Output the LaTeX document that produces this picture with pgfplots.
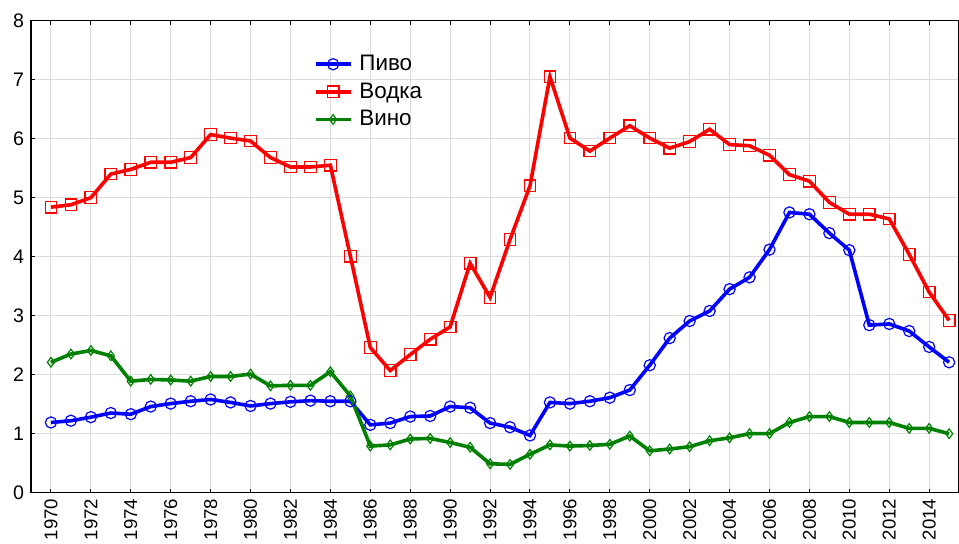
\documentclass[border=0pt]{standalone}
\usepackage{fontspec}
\setmainfont{Liberation Sans}
\usepackage{pgfplots}
\pgfplotsset{compat=1.18}
\definecolor{gridgray}{RGB}{220,220,220}
\begin{document}
\begin{tikzpicture}
\begin{axis}[
  scale only axis,
  width=463.75pt, height=236pt,
  xmin=1969, xmax=2015.47,
  ymin=0, ymax=8,
  xtick={1970,1972,...,2014},
  ytick={0,1,...,8},
  xticklabel style={rotate=90, anchor=east, font=\fontsize{9.3}{11}\selectfont, xshift=0.5pt},
  yticklabel style={font=\fontsize{9.8}{11}\selectfont},
  /pgf/number format/1000 sep={},
  /pgf/number format/assume math mode=true,
  tick align=inside,
  major tick length=2pt,
  ytick pos=left,
  xtick pos=both,
  xticklabel pos=lower,
  grid=major,
  major grid style={gridgray, line width=0.5pt},
  axis line style={black, line width=0.6pt},
  tick style={black, line width=0.5pt},
  legend style={at={(0.298,0.945)}, anchor=north west, draw=none, fill=none,
    font=\fontsize{11.2}{12}\selectfont, row sep=0.6pt},
  legend cell align=left,
  legend image code/.code={\draw[mark repeat=2,mark phase=2] plot coordinates {(0pt,0pt) (8.75pt,0pt) (17.5pt,0pt)};},
]
\addplot[blue, line width=1.8pt, mark=o, mark size=2.8pt, mark options={line width=0.6pt, fill=none}] coordinates {
(1970,1.19)(1971,1.22)(1972,1.28)(1973,1.35)(1974,1.33)(1975,1.46)(1976,1.51)(1977,1.55)(1978,1.58)(1979,1.53)
(1980,1.47)(1981,1.51)(1982,1.54)(1983,1.56)(1984,1.55)(1985,1.55)(1986,1.15)(1987,1.18)(1988,1.29)(1989,1.30)
(1990,1.46)(1991,1.44)(1992,1.18)(1993,1.11)(1994,0.97)(1995,1.53)(1996,1.51)(1997,1.55)(1998,1.61)(1999,1.74)
(2000,2.16)(2001,2.62)(2002,2.91)(2003,3.08)(2004,3.45)(2005,3.65)(2006,4.12)(2007,4.75)(2008,4.72)(2009,4.40)
(2010,4.11)(2011,2.84)(2012,2.86)(2013,2.74)(2014,2.47)(2015,2.21)};
\addlegendentry{\hspace{1.5pt}Пиво}
\addplot[red, line width=1.8pt, mark=square, mark size=2.9pt, mark options={line width=0.6pt, fill=none}] coordinates {
(1970,4.84)(1971,4.88)(1972,5.00)(1973,5.40)(1974,5.48)(1975,5.60)(1976,5.60)(1977,5.68)(1978,6.07)(1979,6.01)
(1980,5.96)(1981,5.68)(1982,5.52)(1983,5.52)(1984,5.55)(1985,4.01)(1986,2.46)(1987,2.07)(1988,2.34)(1989,2.60)
(1990,2.81)(1991,3.89)(1992,3.31)(1993,4.29)(1994,5.20)(1995,7.05)(1996,6.01)(1997,5.79)(1998,6.01)(1999,6.22)
(2000,6.01)(2001,5.84)(2002,5.95)(2003,6.16)(2004,5.90)(2005,5.88)(2006,5.72)(2007,5.39)(2008,5.28)(2009,4.92)
(2010,4.72)(2011,4.72)(2012,4.64)(2013,4.04)(2014,3.40)(2015,2.92)};
\addlegendentry{\hspace{1.5pt}Водка}
\addplot[black!50!green, line width=1.8pt, mark=diamond, mark size=2.4pt, mark options={line width=0.6pt, fill=none}] coordinates {
(1970,2.21)(1971,2.35)(1972,2.41)(1973,2.32)(1974,1.89)(1975,1.92)(1976,1.91)(1977,1.89)(1978,1.97)(1979,1.97)
(1980,2.01)(1981,1.81)(1982,1.82)(1983,1.82)(1984,2.05)(1985,1.64)(1986,0.79)(1987,0.81)(1988,0.91)(1989,0.92)
(1990,0.85)(1991,0.77)(1992,0.49)(1993,0.48)(1994,0.65)(1995,0.81)(1996,0.79)(1997,0.80)(1998,0.82)(1999,0.96)
(2000,0.71)(2001,0.74)(2002,0.78)(2003,0.88)(2004,0.93)(2005,1.00)(2006,1.00)(2007,1.19)(2008,1.29)(2009,1.29)
(2010,1.19)(2011,1.19)(2012,1.19)(2013,1.09)(2014,1.09)(2015,1.00)};
\addlegendentry{\hspace{1.5pt}Вино}
\end{axis}
\pgfresetboundingbox
\path (-15.5pt,-25.65pt) rectangle (464pt,246.35pt);
\end{tikzpicture}
\end{document}
